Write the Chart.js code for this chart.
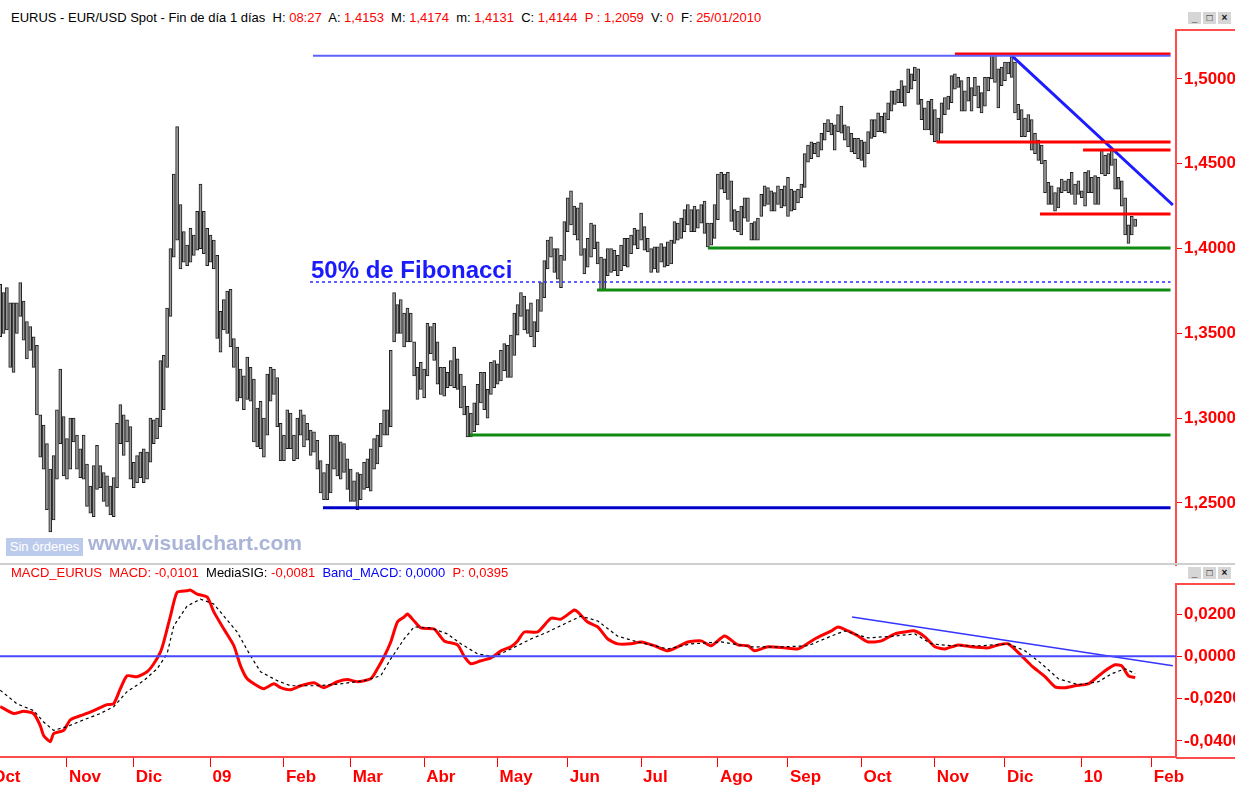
<!DOCTYPE html>
<html>
<head>
<meta charset="utf-8">
<script src="https://cdn.jsdelivr.net/npm/chart.js@4.4.1/dist/chart.umd.min.js"></script>
<style>
  body { margin: 0; background: #fff; width: 1235px; height: 785px; overflow: hidden; position: relative;
         font-family: "Liberation Sans", Arial, sans-serif; }
  .hdr { position: absolute; left: 11px; font-size: 13px; line-height: 16px; white-space: nowrap; color: #000; }
  .r { color: #f00; } .b { color: #00f; }
  canvas { position: absolute; left: 0; }
  #priceChart { top: 29px; }
  #macdChart { top: 583px; }
  .sep { position: absolute; left: 0; top: 563px; width: 1235px; height: 2px; background: #cfcfcf; }
  .btns { position: absolute; left: 1188px; display: flex; gap: 2px; }
  .btns span { width: 13px; height: 12px; background: #d6d6d6; color: #111; font-size: 10px; line-height: 12px;
               text-align: center; font-weight: bold; }
  .orders { position: absolute; left: 6px; top: 538px; width: 77px; height: 18px; background: #bccbec;
            color: #fff; font-size: 13px; line-height: 18px; text-align: center; }
  .brand { position: absolute; left: 88px; top: 531px; color: #a9b4d8; font-size: 21px; font-weight: bold; }
</style>
</head>
<body>
<div class="hdr" style="top:10px">EURUS - EUR/USD Spot - Fin de día 1 días&nbsp; H: <span class="r">08:27</span>&nbsp; A: <span class="r">1,4153</span>&nbsp; M: <span class="r">1,4174</span>&nbsp; m: <span class="r">1,4131</span>&nbsp; C: <span class="r">1,4144</span>&nbsp; <span class="r">P : 1,2059</span>&nbsp; V: <span class="r">0</span>&nbsp; F: <span class="r">25/01/2010</span></div>
<div class="btns" style="top:12px"><span>_</span><span>□</span><span>×</span></div>
<canvas id="priceChart" width="1235" height="537"></canvas>
<div class="orders">Sin órdenes</div>
<div class="brand">www.visualchart.com</div>
<div class="sep"></div>
<div class="hdr" style="top:565px"><span class="r">MACD_EURUS&nbsp; MACD: -0,0101</span>&nbsp; MediaSIG: <span class="r">-0,0081</span>&nbsp; <span class="b">Band_MACD: 0,0000</span>&nbsp; <span class="r">P: 0,0395</span></div>
<div class="btns" style="top:567px"><span>_</span><span>□</span><span>×</span></div>
<canvas id="macdChart" width="1235" height="202"></canvas>
<script>
// EUR/USD daily bars, weekday index 0 = 1 Oct 2008, first bar shown = index 3 (6 Oct 2008)
const firstBar = 3;
const barHigh = [
  // Oct 2008
  1.3790,1.3740,1.3770,1.3680,1.3680, 1.3680,1.3800,1.3690,1.3570,1.3540, 1.3480,1.3430,1.3020,1.2960,1.2850, 1.2700,1.2780,1.3050,1.3290,1.3010,
  // Nov
  1.2880,1.3000,1.3000,1.2900,1.2820, 1.2900,1.2730,1.2600,1.2720,1.2840, 1.2720,1.2680,1.2660,1.2600,1.2650, 1.2970,1.3080,1.3020,1.2990,1.2950,
  // Dic
  1.2740,1.2780,1.2800,1.2820,1.2800, 1.3000,1.2990,1.3000,1.3340,1.3370, 1.3650,1.4000,1.4440,1.4720,1.4260, 1.4100,1.4020,1.4120,1.4080,1.4220, 1.4380,1.4220,1.4120,
  // Jan 2009
  1.4080,1.4050,1.3960,1.3630,1.3700, 1.3750,1.3760,1.3470,1.3420,1.3290, 1.3250,1.3360,1.3300,1.3230,1.3060, 1.3100,1.3000,1.3260,1.3300,1.3290, 1.3240,1.2970,
  // Feb
  1.2900,1.3050,1.3030,1.2900,1.3000, 1.3050,1.3020,1.2970,1.2930,1.2920, 1.2870,1.2750,1.2680,1.2730,1.2900, 1.2900,1.2900,1.2860,1.2850,1.2760,
  // Mar
  1.2700,1.2630,1.2680,1.2670,1.2740, 1.2760,1.2820,1.2880,1.2900,1.2970, 1.3050,1.3050,1.3400,1.3740,1.3670, 1.3700,1.3620,1.3650,1.3620,1.3450, 1.3300,1.3330,
  // Abr
  1.3290,1.3560,1.3540,1.3560,1.3450, 1.3300,1.3300,1.3270,1.3340,1.3420, 1.3350,1.3260,1.3190,1.3070,1.3030, 1.3090,1.3200,1.3270,1.3270,1.3170, 1.3330,1.3340,
  // May
  1.3320,1.3400,1.3440,1.3430,1.3490, 1.3620,1.3670,1.3740,1.3720,1.3640, 1.3680,1.3570,1.3700,1.3800,1.3930, 1.4050,1.4070,1.4000,1.4000,1.3960, 1.4160,
  // Jun
  1.4300,1.4340,1.4250,1.4240,1.4270, 1.4000,1.4060,1.4150,1.4140,1.4040, 1.3950,1.3940,1.4000,1.4000,1.3990, 1.3960,1.4020,1.4060,1.4060,1.4080, 1.4120,1.4110,
  // Jul
  1.4210,1.4130,1.4060,1.4000,1.4010, 1.4010,1.4030,1.4010,1.4040,1.4050, 1.4160,1.4150,1.4180,1.4230,1.4260, 1.4230,1.4250,1.4230,1.4260,1.4280, 1.4150,1.4150,1.4260,
  // Ago
  1.4440,1.4450,1.4440,1.4450,1.4400, 1.4230,1.4220,1.4250,1.4300,1.4300, 1.4150,1.4160,1.4180,1.4320,1.4370, 1.4360,1.4340,1.4330,1.4370,1.4350, 1.4370,
  // Sep
  1.4420,1.4350,1.4340,1.4350,1.4380, 1.4560,1.4610,1.4630,1.4620,1.4630, 1.4680,1.4740,1.4760,1.4740,1.4730, 1.4790,1.4840,1.4730,1.4720,1.4680, 1.4650,1.4650,
  // Oct
  1.4640,1.4630,1.4690,1.4760,1.4760, 1.4800,1.4780,1.4800,1.4860,1.4930, 1.4930,1.4940,1.4990,1.4960,1.5060, 1.5030,1.5070,1.5060,1.4880,1.4830, 1.4870,1.4880,
  // Nov
  1.4820,1.4770,1.4860,1.4890,1.4900, 1.5020,1.5030,1.5010,1.4990,1.4930, 1.5010,1.4950,1.5010,1.4960,1.4920, 1.5010,1.5010,1.5145,1.5140,1.5060, 1.5070,
  // Dic
  1.5100,1.5100,1.5140,1.5100,1.4850, 1.4820,1.4770,1.4790,1.4760,1.4680, 1.4640,1.4610,1.4520,1.4390,1.4370, 1.4330,1.4360,1.4410,1.4400,1.4410, 1.4450,1.4380,1.4400,
  // Jan 2010
  1.4340,1.4450,1.4460,1.4420,1.4430, 1.4420,1.4580,1.4550,1.4560,1.4580, 1.4530,1.4420,1.4400,1.4300,1.4140, 1.4190,1.4174
];
const barLow = [
  // Oct 2008
  1.3480,1.3500,1.3520,1.3300,1.3270, 1.3500,1.3600,1.3460,1.3350,1.3400, 1.3300,1.3020,1.2770,1.2700,1.2460, 1.2330,1.2400,1.2640,1.2850,1.2660,
  // Nov
  1.2640,1.2700,1.2860,1.2700,1.2650, 1.2640,1.2480,1.2440,1.2420,1.2580, 1.2590,1.2510,1.2480,1.2430,1.2420, 1.2590,1.2850,1.2780,1.2860,1.2640,
  // Dic
  1.2590,1.2620,1.2650,1.2620,1.2640, 1.2740,1.2850,1.2880,1.2950,1.3050, 1.3300,1.3600,1.3950,1.4050,1.3880, 1.3920,1.3900,1.3920,1.3960,1.3990, 1.4000,1.3970,1.3900,
  // Jan 2009
  1.3920,1.3880,1.3470,1.3390,1.3520, 1.3500,1.3420,1.3300,1.3100,1.3120, 1.3050,1.3110,1.3100,1.2860,1.2830, 1.2820,1.2770,1.2900,1.3100,1.3140, 1.2950,1.2750,
  // Feb
  1.2750,1.2820,1.2820,1.2750,1.2760, 1.2900,1.2830,1.2870,1.2780,1.2800, 1.2700,1.2560,1.2520,1.2520,1.2560, 1.2700,1.2660,1.2640,1.2680,1.2580,
  // Mar
  1.2510,1.2510,1.2460,1.2520,1.2580, 1.2590,1.2570,1.2700,1.2730,1.2830, 1.2900,1.2900,1.2950,1.3450,1.3500, 1.3500,1.3420,1.3450,1.3450,1.3250, 1.3110,1.3170,
  // Abr
  1.3120,1.3250,1.3380,1.3340,1.3200, 1.3140,1.3130,1.3180,1.3190,1.3180, 1.3170,1.3060,1.3020,1.2890,1.2890, 1.2920,1.2960,1.3090,1.3050,1.3000, 1.3140,1.3180,
  // May
  1.3200,1.3220,1.3280,1.3240,1.3240, 1.3370,1.3490,1.3600,1.3520,1.3500, 1.3480,1.3420,1.3510,1.3630,1.3710, 1.3880,1.3950,1.3860,1.3820,1.3770, 1.3930,
  // Jun
  1.4100,1.4140,1.4080,1.4050,1.3960, 1.3850,1.3890,1.3950,1.4000,1.3910, 1.3750,1.3760,1.3840,1.3860,1.3870, 1.3840,1.3870,1.3900,1.3890,1.3970, 1.4020,1.4000,
  // Jul
  1.4050,1.3990,1.3980,1.3860,1.3880, 1.3860,1.3920,1.3890,1.3900,1.3910, 1.4030,1.4050,1.4060,1.4100,1.4140, 1.4100,1.4100,1.4120,1.4150,1.4090, 1.4010,1.4020,1.4060,
  // Ago
  1.4170,1.4350,1.4330,1.4290,1.4160, 1.4110,1.4100,1.4080,1.4180,1.4160, 1.4050,1.4050,1.4050,1.4190,1.4250, 1.4260,1.4220,1.4220,1.4260,1.4240, 1.4250,
  // Sep
  1.4190,1.4220,1.4230,1.4270,1.4300, 1.4360,1.4510,1.4530,1.4560,1.4540, 1.4580,1.4640,1.4690,1.4670,1.4580, 1.4690,1.4680,1.4640,1.4600,1.4570, 1.4560,1.4530,
  // Oct
  1.4520,1.4480,1.4560,1.4650,1.4660, 1.4690,1.4690,1.4680,1.4760,1.4810, 1.4850,1.4860,1.4860,1.4840,1.4920, 1.4940,1.4990,1.4850,1.4760,1.4700, 1.4700,1.4670,
  // Nov
  1.4630,1.4630,1.4680,1.4790,1.4820, 1.4860,1.4940,1.4950,1.4810,1.4810, 1.4870,1.4810,1.4900,1.4830,1.4800, 1.4840,1.4930,1.5000,1.4980,1.4830, 1.4960,
  // Dic
  1.4990,1.5030,1.5010,1.4800,1.4760, 1.4660,1.4660,1.4690,1.4580,1.4560, 1.4520,1.4500,1.4330,1.4260,1.4260, 1.4220,1.4240,1.4330,1.4340,1.4330, 1.4320,1.4260,1.4320,
  // Jan 2010
  1.4300,1.4250,1.4330,1.4330,1.4260, 1.4260,1.4440,1.4430,1.4440,1.4490, 1.4350,1.4350,1.4250,1.4080,1.4030, 1.4080,1.4131
];

// month ticks (weekday index) and labels
const monthTicks  = [0, 23, 43, 66, 88, 108, 130, 152, 173, 195, 218, 239, 261, 283, 304, 327, 348];
const monthLabels = ['Oct','Nov','Dic','09','Feb','Mar','Abr','May','Jun','Jul','Ago','Sep','Oct','Nov','Dic','10','Feb'];
const priceTicks = [1.50, 1.45, 1.40, 1.35, 1.30, 1.25];
const macdTicks  = [0.02, 0, -0.02, -0.04];

// drawn levels: [start index, price], all run to lineEnd
const lineEnd = 353.6;
const redLevels   = [[289, 1.5147], [283.5, 1.4629], [327.4, 1.4581], [314.5, 1.4204]];
const greenLevels = [[215, 1.4004], [181.8, 1.3756], [143.7, 1.2901]];
const rangeTop    = [96.7, 1.5137];
const rangeBottom = [99.7, 1.2472];
const fibLevel    = [95.8, 1.3803];
const downTrend   = [[306.1, 1.5136], [354.3, 1.4257]];

// MACD panel: [index, value]
const macdLine = [[3,-0.0237],[7,-0.0270],[10,-0.0260],[13,-0.0270],[15,-0.0327],[16,-0.0374],[18,-0.0403],[19,-0.0365],
  [22,-0.0350],[24,-0.0300],[28,-0.0275],[31,-0.0256],[35,-0.0228],[37,-0.0224],[39,-0.0153],[41,-0.0092],[44,-0.0096],
  [47,-0.0073],[49,-0.0035],[51,0.0020],[52,0.0068],[54,0.0190],[56,0.0303],[59,0.0310],[60,0.0313],[62,0.0294],[65,0.0280],
  [67,0.0210],[70,0.0129],[73,0.0050],[75,-0.0045],[77,-0.0106],[80,-0.0139],[82,-0.0153],[85,-0.0130],[87,-0.0148],
  [90,-0.0158],[93,-0.0139],[97,-0.0125],[100,-0.0148],[104,-0.0120],[107,-0.0110],[110,-0.0120],[114,-0.0106],[116,-0.0059],
  [118,-0.0002],[120,0.0068],[122,0.0162],[124,0.0186],[125,0.0200],[127,0.0167],[129,0.0134],[133,0.0129],[136,0.0073],
  [140,0.0054],[142,0.0000],[144,-0.0035],[147,-0.0021],[150,-0.0007],[153,0.0026],[156,0.0045],[158,0.0073],[160,0.0115],
  [164,0.0115],[168,0.0180],[171,0.0176],[175,0.0219],[176,0.0210],[179,0.0162],[182,0.0139],[185,0.0082],[188,0.0059],
  [192,0.0059],[195,0.0068],[199,0.0050],[203,0.0026],[206,0.0045],[209,0.0068],[213,0.0073],[216,0.0050],[220,0.0096],
  [224,0.0054],[227,0.0050],[229,0.0026],[233,0.0045],[238,0.0040],[242,0.0035],[247,0.0082],[252,0.0120],[254,0.0139],
  [257,0.0120],[260,0.0096],[263,0.0068],[267,0.0073],[271,0.0106],[274,0.0115],[277,0.0120],[280,0.0092],[283,0.0045],
  [286,0.0035],[290,0.0054],[294,0.0045],[299,0.0040],[302,0.0054],[305,0.0059],[309,0.0002],[312,-0.0045],[316,-0.0096],
  [319,-0.0144],[322,-0.0148],[325,-0.0139],[329,-0.0130],[331,-0.0106],[334,-0.0068],[337,-0.0040],[339,-0.0045],
  [341,-0.0092],[343,-0.0101]];
const signalLine = [[3,-0.0160],[8,-0.0224],[13,-0.0256],[16,-0.0310],[19,-0.0350],[23,-0.0332],[28,-0.0300],[33,-0.0270],
  [37,-0.0238],[41,-0.0167],[46,-0.0115],[50,-0.0059],[53,0.0012],[55,0.0144],[59,0.0238],[63,0.0270],[67,0.0247],
  [70,0.0190],[74,0.0115],[78,0.0002],[81,-0.0073],[86,-0.0115],[90,-0.0139],[98,-0.0139],[105,-0.0130],[112,-0.0115],
  [117,-0.0092],[120,-0.0012],[124,0.0082],[127,0.0139],[132,0.0134],[137,0.0106],[141,0.0059],[146,0.0012],[151,-0.0002],
  [156,0.0035],[162,0.0082],[167,0.0115],[172,0.0153],[177,0.0190],[182,0.0167],[188,0.0095],[194,0.0068],[203,0.0035],
  [210,0.0059],[219,0.0068],[228,0.0045],[238,0.0045],[245,0.0050],[252,0.0096],[256,0.0120],[263,0.0087],[271,0.0096],
  [277,0.0106],[282,0.0059],[288,0.0050],[297,0.0050],[305,0.0059],[310,0.0026],[315,-0.0035],[320,-0.0106],[326,-0.0134],
  [332,-0.0120],[336,-0.0082],[340,-0.0059],[343,-0.0081]];
const bandLevel = 0;
const macdTrend = [[258.2, 0.0186], [354.3, -0.0045]];

// ---- chart setup ----
const xMin = 2.94, xMax = 355.24;
const axisRed = '#ff4d4d';
const labelFont = { family: '"Liberation Sans", Arial, sans-serif', size: 17, weight: 'bold' };
const fmt = v => v.toFixed(4).replace('.', ',');
const pts = arr => arr.map(p => ({ x: p[0], y: p[1] }));
const level = (start, price) => [{ x: start, y: price }, { x: lineEnd, y: price }];

function rightAxis(min, max, ticks) {
  return {
    position: 'right', min, max,
    afterBuildTicks: s => { s.ticks = ticks.map(v => ({ value: v })); },
    afterFit: s => { s.width = 59; s.paddingTop = 0; s.paddingBottom = 0; },
    grid: { drawOnChartArea: false, drawTicks: true, tickLength: 6, color: '#ff0000' },
    border: { display: true, color: axisRed, width: 2 },
    ticks: { color: '#ff0000', font: labelFont, padding: 2, callback: v => fmt(v) }
  };
}

function lineSet(data, color, width, dash) {
  return { type: 'line', data, borderColor: color, borderWidth: width, borderDash: dash || [],
           pointRadius: 0, fill: false, tension: 0, order: 0 };
}

// red frame pieces in the axis column, and the Fibonacci note
const framePlugin = {
  id: 'frame',
  afterDraw(chart) {
    const { ctx, chartArea: a } = chart;
    ctx.save();
    ctx.strokeStyle = axisRed;
    ctx.lineWidth = 2;
    ctx.beginPath();
    ctx.moveTo(a.right, a.top + 1); ctx.lineTo(chart.width, a.top + 1);
    if (chart.canvas.id === 'macdChart') { ctx.moveTo(a.right, a.bottom + 1); ctx.lineTo(chart.width, a.bottom + 1); }
    ctx.stroke();
    ctx.restore();
  }
};
const notePlugin = {
  id: 'note',
  afterDatasetsDraw(chart) {
    if (chart.canvas.id !== 'priceChart') return;
    const x = chart.scales.x.getPixelForValue(fibLevel[0]);
    const y = chart.scales.y.getPixelForValue(fibLevel[1]);
    const ctx = chart.ctx;
    ctx.save();
    ctx.font = 'bold 24px "Liberation Sans", Arial, sans-serif';
    ctx.fillStyle = '#1a1aff';
    ctx.textBaseline = 'alphabetic';
    ctx.fillText('50% de Fibonacci', x + 1, y - 4);
    ctx.restore();
  }
};

const common = {
  responsive: false, animation: false, events: [],
  layout: { padding: 0 },
  plugins: { legend: { display: false }, tooltip: { enabled: false } }
};

new Chart(document.getElementById('priceChart'), {
  type: 'bar',
  data: {
    datasets: [
      { type: 'bar', data: barHigh.map((h, k) => ({ x: firstBar + k, y: [barLow[k], h] })),
        backgroundColor: '#9a9a9a', borderColor: '#1e1e1e', borderWidth: 1, borderSkipped: false,
        barThickness: 3, order: 10 },
      lineSet(level(rangeTop[0], rangeTop[1]), '#6060ff', 2),
      lineSet(level(rangeBottom[0], rangeBottom[1]), '#0000c8', 3),
      lineSet(level(fibLevel[0], fibLevel[1]), '#2a2aff', 1.5, [3, 3]),
      ...greenLevels.map(l => lineSet(level(l[0], l[1]), '#118a11', 3)),
      ...redLevels.map(l => lineSet(level(l[0], l[1]), '#ff0000', 3)),
      lineSet(pts(downTrend), '#1c1cff', 3)
    ]
  },
  options: {
    ...common,
    scales: {
      x: { type: 'linear', display: false, offset: false, min: xMin, max: xMax },
      y: rightAxis(1.21285, 1.52948, priceTicks)
    }
  },
  plugins: [framePlugin, notePlugin]
});

new Chart(document.getElementById('macdChart'), {
  type: 'line',
  data: {
    datasets: [
      lineSet([{ x: xMin, y: bandLevel }, { x: xMax, y: bandLevel }], '#4848ff', 2),
      lineSet(pts(macdTrend), '#3535ff', 1.5),
      lineSet(pts(signalLine), '#000000', 1.2, [3, 3]),
      { ...lineSet(pts(macdLine), '#ff0000', 3), tension: 0.2 }
    ]
  },
  options: {
    ...common,
    scales: {
      x: {
        type: 'linear', min: xMin, max: xMax, offset: false,
        afterBuildTicks: s => { s.ticks = monthTicks.map(v => ({ value: v })); },
        afterFit: s => { s.height = 28; s.paddingLeft = 0; s.paddingRight = 0; },
        grid: { drawOnChartArea: false, drawTicks: true, tickLength: 10, color: '#ff0000' },
        border: { display: true, color: axisRed, width: 2 },
        ticks: { color: '#ff0000', font: labelFont, padding: 0, align: 'start', labelOffset: 2,
                 autoSkip: false, maxRotation: 0, minRotation: 0,
                 callback: v => monthLabels[monthTicks.indexOf(v)] }
      },
      y: rightAxis(-0.04756, 0.03465, macdTicks)
    }
  },
  plugins: [framePlugin]
});
</script>
</body>
</html>
